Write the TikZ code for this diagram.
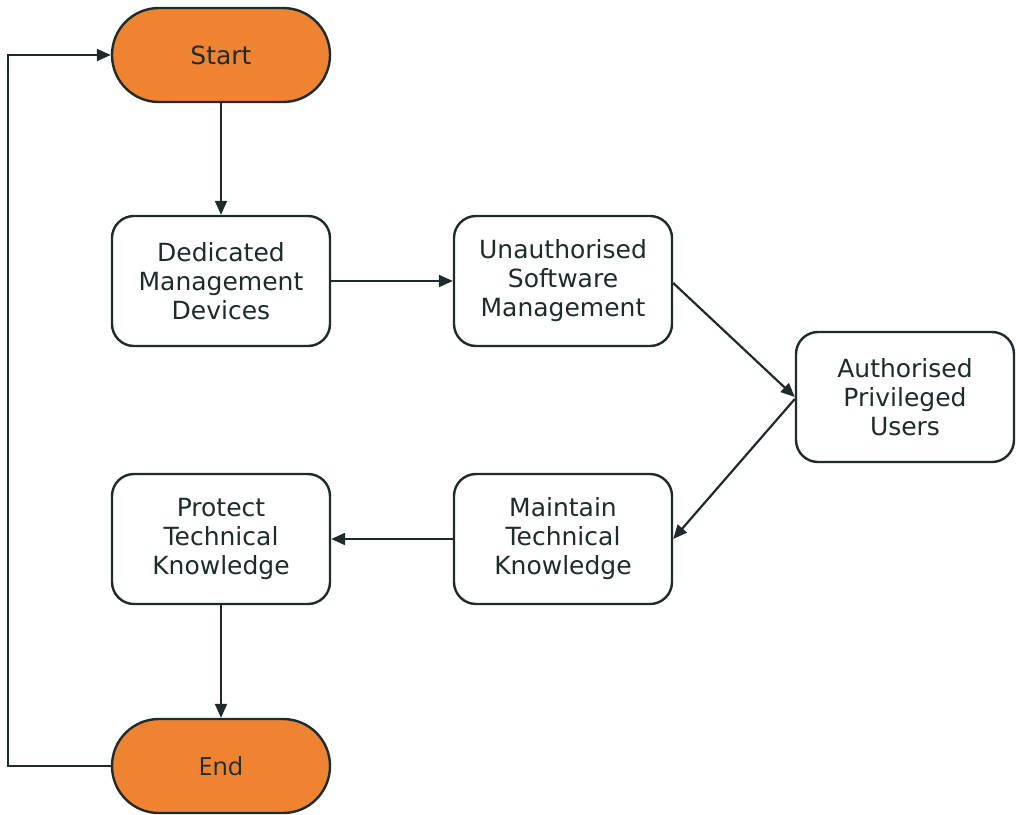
\documentclass[tikz,border=0pt]{standalone}
\usepackage{fontspec}
\setmainfont{DejaVu Sans}
\newfontfamily\endfont{Open Sans}
\usetikzlibrary{arrows.meta}
\definecolor{ink}{HTML}{1F2B2B}
\definecolor{term}{HTML}{EE8431}
\begin{document}
\begin{tikzpicture}[x=1pt,y=-1pt,
  base/.style={draw=ink,line width=2.4pt,text=ink,align=center,
    font=\fontsize{25}{29}\selectfont,inner sep=0pt},
  procbox/.style={base,fill=white,minimum width=218pt,minimum height=130pt,
    rounded corners=22pt},
  termbox/.style={base,fill=term,minimum width=218pt,minimum height=94pt,
    rounded corners=46.9pt},
  link/.style={draw=ink,line width=2.2pt,
    -{Triangle[length=14pt,width=12pt]}}]
\useasboundingbox (0,0) rectangle (1016,814);
\node[termbox] (start) at (221,55) {Start};
\node[procbox] (dmd) at (221,281) {Dedicated\\Management\\Devices};
\node[procbox] (usm) at (563,281) {Unauthorised\\Software\\Management};
\node[procbox] (apu) at (905,397) {Authorised\\Privileged\\Users};
\node[procbox] (mtk) at (563,539) {Maintain\\Technical\\Knowledge};
\node[procbox] (ptk) at (221,539) {Protect\\Technical\\Knowledge};
\node[termbox,font=\endfont\fontsize{25}{29}\selectfont] (end) at (221,766) {End};
\coordinate (lb) at (8,766);
\coordinate (lt) at (8,55);
\draw[link] (start) -- (dmd);
\draw[link] (dmd) -- (usm);
\draw[link] (usm.east |- 0,283) -- (apu.west |- 0,397);
\draw[link] (apu.west |- 0,399) -- (mtk.east |- 0,539);
\draw[link] (mtk) -- (ptk);
\draw[link] (ptk) -- (end);
\draw[link] (end.west) -- (lb) -- (lt) -- (start.west);
\end{tikzpicture}
\end{document}
